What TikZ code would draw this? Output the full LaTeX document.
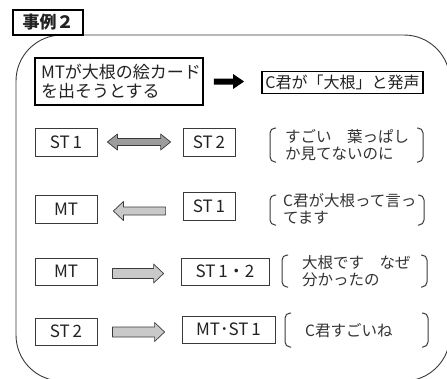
\documentclass[tikz,border=0pt]{standalone}
\usepackage{fontspec}
\setmainfont{Noto Sans CJK JP}
\usetikzlibrary{calc}
\definecolor{bord}{HTML}{3A3A3A}
\definecolor{txt}{HTML}{222222}
\definecolor{btxt}{HTML}{333333}
\definecolor{darkfill}{HTML}{9C9C9C}
\definecolor{lightfill}{HTML}{C9C9C9}
\tikzset{
  thickbox/.style={draw=black, line width=1.8pt, fill=white, inner sep=0pt, text=txt, font=\fontsize{17}{19}\selectfont},
  stbox/.style={draw=bord, line width=0.8pt, inner sep=0pt, text=txt, font=\fontsize{17}{19}\selectfont},
  brtext/.style={anchor=west, inner sep=0pt, align=left, text=btxt, font=\fontsize{15.5}{17}\selectfont},
  brline/.style={draw=bord, line width=1pt, rounded corners=5pt},
  arrline/.style={draw=bord, line width=0.7pt, line join=round},
}
% right-pointing block arrow: start point, end point, fill
\newcommand\blockR[5]{% #1 start, #2 end, #3 fill, #4 shaft half, #5 head half
  \path let \p1=#1, \p2=#2 in
    [arrline, fill=#3] (\x1,\y1-#4) -- (\x2-10pt,\y1-#4) -- (\x2-10pt,\y1-#5) -- (\x2,\y1)
    -- (\x2-10pt,\y1+#5) -- (\x2-10pt,\y1+#4) -- (\x1,\y1+#4) -- cycle;}
\newcommand\blockL[5]{% #1 tip, #2 tail
  \path let \p1=#1, \p2=#2 in
    [arrline, fill=#3] (\x1,\y1) -- (\x1+10pt,\y1-#5) -- (\x1+10pt,\y1-#4) -- (\x2,\y1-#4)
    -- (\x2,\y1+#4) -- (\x1+10pt,\y1+#4) -- (\x1+10pt,\y1+#5) -- cycle;}
\newcommand\blockD[5]{% double arrow
  \path let \p1=#1, \p2=#2 in
    [arrline, fill=#3] (\x1,\y1) -- (\x1+10pt,\y1-#5) -- (\x1+10pt,\y1-#4) -- (\x2-10pt,\y1-#4)
    -- (\x2-10pt,\y1-#5) -- (\x2,\y1) -- (\x2-10pt,\y1+#5) -- (\x2-10pt,\y1+#4)
    -- (\x1+10pt,\y1+#4) -- (\x1+10pt,\y1+#5) -- cycle;}
\newcommand\brk[4]{% x1 x2 ytop ybottom
  \draw[brline] (#1+6,#3) -- (#1,#3) -- (#1,#4) -- (#1+6,#4);
  \draw[brline] (#2-6,#3) -- (#2,#3) -- (#2,#4) -- (#2-6,#4);}
\begin{document}
\begin{tikzpicture}[x=1pt,y=-1pt]
\useasboundingbox (0,0) rectangle (447,378);
\clip (0,0) rectangle (447,378);
\fill[white] (0,0) rectangle (447,378);
% big rounded frame
\draw[draw=bord, line width=0.9pt, rounded corners=46pt] (16,35) rectangle (450,381);
% title
\node[thickbox, minimum width=70pt, minimum height=25pt, font=\fontsize{17}{19}\selectfont\bfseries] (title) at (48,22.5) {事例２};
% top row
\node[thickbox, minimum width=168pt, minimum height=47pt, text width=156pt, align=left] (b1) at (119,81.5) {MTが大根の絵カード\\を出そうとする};
\node[thickbox, minimum width=161pt, minimum height=22pt, font=\fontsize{16}{18}\selectfont] (b2) at (342.5,82.5) {C君が「大根」と発声};
\path[fill=black] let \p1=($(b1.east)+(10pt,0)$), \p2=($(b2.west)+(-17pt,0)$) in
  (\x1,\y1-3pt) -- (\x2-11pt,\y1-3pt) -- (\x2-11pt,\y1-7.5pt) -- (\x2,\y1)
  -- (\x2-11pt,\y1+7.5pt) -- (\x2-11pt,\y1+3pt) -- (\x1,\y1+3pt) -- cycle;
% row 2
\node[stbox, minimum width=62pt, minimum height=28pt] (r2a) at (66,142) {ST\,1};
\node[stbox, minimum width=52pt, minimum height=28pt] (r2b) at (209,142) {ST\,2};
\blockD{($(r2a.east)+(10pt,0)$)}{($(r2b.west)+(-12pt,0)$)}{darkfill}{3.5pt}{8pt}
\node[brtext] (r2t) at (285,145.5) {すごい　葉っぱし\\か見てないのに};
\brk{270}{423}{128}{162}
% row 3
\node[stbox, minimum width=62pt, minimum height=28pt] (r3a) at (66,209) {MT};
\node[stbox, minimum width=52pt, minimum height=28pt] (r3b) at (209,206) {ST\,1};
\blockL{($(r3a.east)+(16pt,-2pt)$)}{($(r3b.west)+(-17pt,0)$)}{lightfill}{4pt}{9.5pt}
\node[brtext] (r3t) at (283,208.5) {C君が大根って言っ\\てます};
\brk{270}{424}{195}{225}
% row 4
\node[stbox, minimum width=62pt, minimum height=27pt] (r4a) at (66,271.5) {MT};
\node[stbox, minimum width=88pt, minimum height=27pt] (r4b) at (225,271.5) {ST\,1・2};
\blockR{($(r4a.east)+(15pt,-2pt)$)}{($(r4b.west)+(-17pt,0)$)}{lightfill}{5pt}{9.5pt}
\node[brtext] (r4t) at (302,271) {大根です　なぜ\\分かったの};
\brk{282}{427}{255}{287}
% row 5
\node[stbox, minimum width=62pt, minimum height=27pt] (r5a) at (66,331.5) {ST\,2};
\node[stbox, minimum width=93pt, minimum height=27pt] (r5b) at (228.5,329.5) {MT･ST\,1};
\blockR{($(r5a.east)+(15pt,-0.5pt)$)}{($(r5b.west)+(-17pt,0)$)}{lightfill}{5pt}{9.5pt}
\node[brtext] (r5t) at (305,331) {C君すごいね};
\brk{285}{428}{313}{347}
\end{tikzpicture}
\end{document}
